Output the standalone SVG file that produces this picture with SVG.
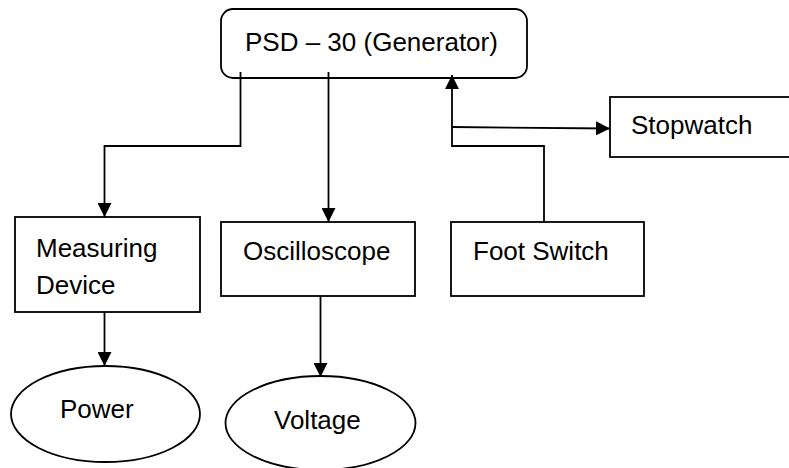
<svg xmlns="http://www.w3.org/2000/svg" width="789" height="468" viewBox="0 0 789 468">
<style>
.box{fill:#fff;stroke:#000;stroke-width:1.8}
.lbl{font-family:"Liberation Sans",Arial,sans-serif;font-size:26px;fill:#000}
.con{fill:none;stroke:#000;stroke-width:1.8}
</style>
<defs>
<marker id="ah" markerUnits="userSpaceOnUse" markerWidth="14" markerHeight="14" refX="14" refY="7" orient="auto">
<path d="M0,0 L14,7 L0,14 z" fill="#000"/>
</marker>
</defs>
<rect width="789" height="468" fill="#fff"/>
<g id="generator"><rect class="box" x="221" y="9" width="306" height="69" rx="12" ry="12"/><text class="lbl" x="245" y="51">PSD – 30 (Generator)</text></g>
<g id="stopwatch"><rect class="box" x="610" y="97" width="200" height="60"/><text class="lbl" x="631" y="134">Stopwatch</text></g>
<g id="measuring"><rect class="box" x="15" y="217" width="185" height="95"/><text class="lbl" x="36" y="257">Measuring</text><text class="lbl" x="36" y="294">Device</text></g>
<g id="oscilloscope"><rect class="box" x="221" y="222" width="194" height="74"/><text class="lbl" x="243" y="260">Oscilloscope</text></g>
<g id="footswitch"><rect class="box" x="451" y="222" width="193" height="74"/><text class="lbl" x="473" y="260">Foot Switch</text></g>
<g id="power"><ellipse class="box" cx="105.5" cy="414" rx="94.5" ry="48"/><text class="lbl" x="60" y="418">Power</text></g>
<g id="voltage"><ellipse class="box" cx="320.5" cy="423" rx="95" ry="47"/><text class="lbl" x="274" y="429">Voltage</text></g>
<g id="connectors">
<path class="con" d="M240.5,72 V146 H104.5 V217" marker-end="url(#ah)"/>
<path class="con" d="M328.5,72 V222" marker-end="url(#ah)"/>
<path class="con" d="M544,222 V146 H452 V75" marker-end="url(#ah)"/>
<path class="con" d="M452,127 L610,128.5" marker-end="url(#ah)"/>
<path class="con" d="M104.5,312 V366" marker-end="url(#ah)"/>
<path class="con" d="M320.5,296 V377" marker-end="url(#ah)"/>
</g>
</svg>
